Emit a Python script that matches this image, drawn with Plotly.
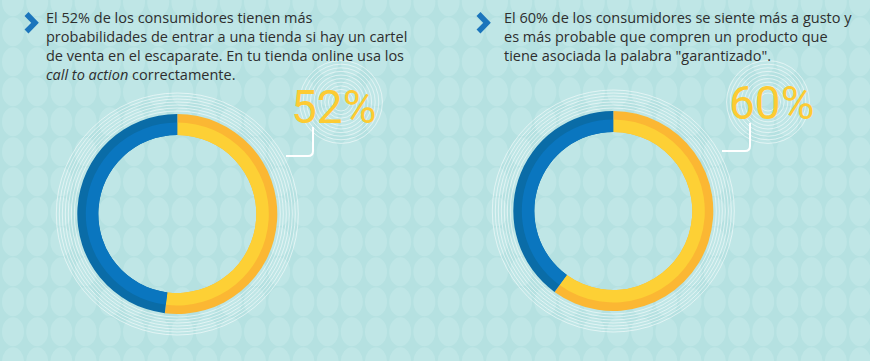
import plotly.graph_objects as go

W, H = 870, 361

# ---- data ----
slice_labels = ["Sí", "No"]
values_left = [52, 48]
values_right = [60, 40]
pct_left = "52%"
pct_right = "60%"
text_left = ("El 52% de los consumidores tienen más<br>"
             "probabilidades de entrar a una tienda si hay un cartel<br>"
             "de venta en el escaparate. En tu tienda online usa los<br>"
             "<i>call to action</i> correctamente.")
text_right = ("El 60% de los consumidores se siente más a gusto y<br>"
              "es más probable que compren un producto que<br>"
              "tiene asociada la palabra \"garantizado\".")

# ---- styles ----
BG = "#B5E1E1"
OVAL = "#BFE6E6"
DARK = ["#FBB733", "#0A6CA7"]
LIGHT = ["#FDD035", "#0A76BF"]
TXT = "#2E2E2E"
PCT = "#FDCB33"
BLUE = "#1B75BC"

fig = go.Figure()

def donut(cx, cy, values, r_out=100, r_mid=91.5, r_in=79):
    for r, hole, cols in [(r_out, r_in / r_out, DARK), (r_mid, r_in / r_mid, LIGHT)]:
        fig.add_trace(go.Pie(
            labels=slice_labels, values=values, hole=hole, sort=False,
            direction="clockwise", rotation=0, textinfo="none",
            hoverinfo="skip", showlegend=False,
            marker=dict(colors=cols, line=dict(width=0)),
            domain=dict(x=[(cx - r) / W, (cx + r) / W],
                        y=[(H - cy - r) / H, (H - cy + r) / H]),
        ))

shapes = []
# background oval pattern
px, py = 24.2, 30
for j in range(-1, 14):
    for i in range(-1, 38):
        x = 13 + i * px
        y = 1.7 + j * py
        shapes.append(dict(type="circle", xref="x", yref="y", layer="below",
                           x0=x - 11, x1=x + 11, y0=y - 14.5, y1=y + 14.5,
                           fillcolor=OVAL, line=dict(width=0)))

def rings(cx, cy, r0, r1, step):
    r = r0
    while r <= r1:
        shapes.append(dict(type="circle", xref="x", yref="y", layer="below",
                           x0=cx - r, x1=cx + r, y0=cy - r, y1=cy + r,
                           line=dict(color="rgba(255,255,255,0.55)", width=1)))
        r += step

L_CX, L_CY = 177.3, 214
R_CX, R_CY = 613.3, 211
rings(L_CX, L_CY, 103, 121, 3)
rings(R_CX, R_CY, 103, 121, 3)
rings(341, 102, 9, 45, 3.6)
rings(768, 102, 9, 45, 3.6)

donut(L_CX, L_CY, values_left)
donut(R_CX, R_CY, values_right)

# connectors
shapes.append(dict(type="path", xref="x", yref="y",
                   path="M 286 156 L 308 156 Q 313 156 313 151 L 313 127",
                   line=dict(color="white", width=2)))
shapes.append(dict(type="path", xref="x", yref="y",
                   path="M 722 151 L 745 151 Q 750 151 750 146 L 750 123",
                   line=dict(color="white", width=2)))
# chevrons
shapes.append(dict(type="path", xref="x", yref="y",
                   path="M 26.5 14 L 35 22.8 L 26.5 31.5",
                   line=dict(color=BLUE, width=5.5)))
shapes.append(dict(type="path", xref="x", yref="y",
                   path="M 478.5 14 L 487 22.8 L 478.5 31.5",
                   line=dict(color=BLUE, width=5.5)))

annotations = [
    dict(x=44, y=6, xref="x", yref="y", xanchor="left", yanchor="top",
         text=text_left, showarrow=False, align="left",
         font=dict(family="Open Sans", size=14.5, color=TXT)),
    dict(x=502, y=6, xref="x", yref="y", xanchor="left", yanchor="top",
         text=text_right, showarrow=False, align="left",
         font=dict(family="Open Sans", size=14.5, color=TXT)),
    dict(x=333.5, y=107, xref="x", yref="y", xanchor="center", yanchor="middle",
         text=pct_left, showarrow=False,
         font=dict(family="Roboto", size=46, color=PCT, weight=400)),
    dict(x=771, y=103, xref="x", yref="y", xanchor="center", yanchor="middle",
         text=pct_right, showarrow=False,
         font=dict(family="Roboto", size=46, color=PCT, weight=400)),
]

fig.update_layout(
    width=W, height=H, margin=dict(l=0, r=0, t=0, b=0),
    paper_bgcolor=BG, plot_bgcolor=BG,
    xaxis=dict(range=[0, W], visible=False, fixedrange=True),
    yaxis=dict(range=[H, 0], visible=False, fixedrange=True),
    shapes=shapes, annotations=annotations, showlegend=False,
)

fig.write_html("out.html", config={"displayModeBar": False},
               post_script="document.body.style.margin='0';document.body.style.padding='0';")
